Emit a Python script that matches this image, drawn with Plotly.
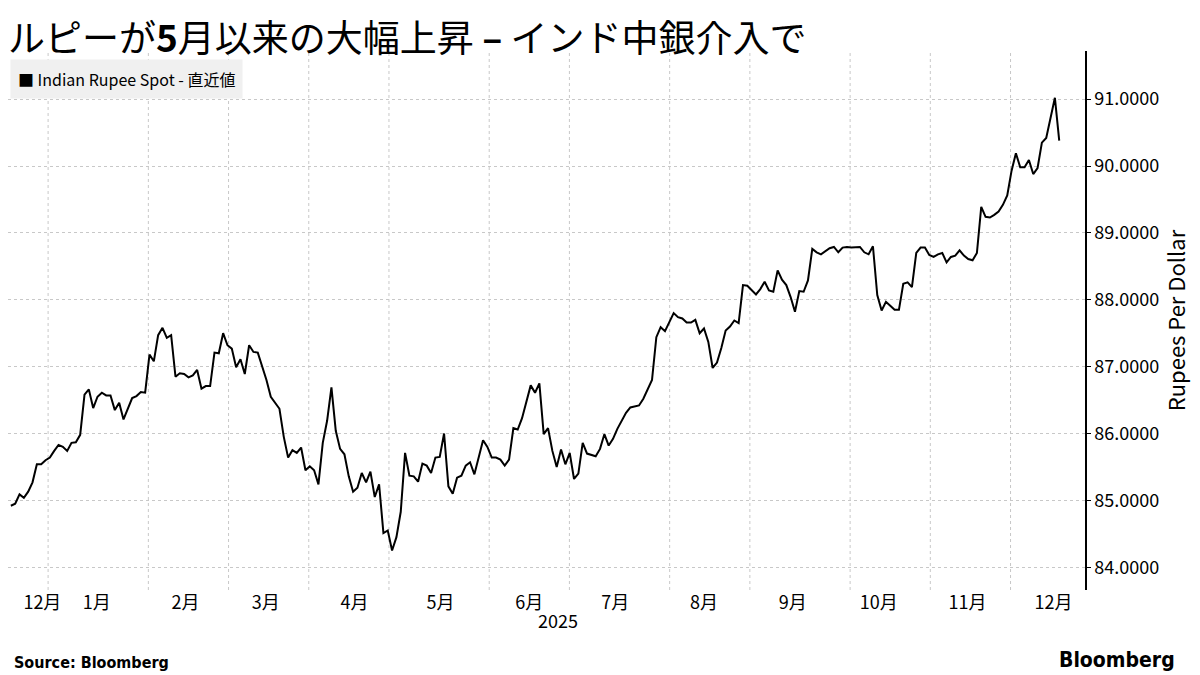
import pandas as pd
import plotly.graph_objects as go

# INR per USD (trading days, oldest first)
rupee = [
    84.92, 84.95, 85.09, 85.04, 85.13, 85.27, 85.54, 85.54, 85.60, 85.64, 85.74, 85.83, 85.80, 85.74, 85.86,
    85.87, 85.98, 86.58, 86.66, 86.38, 86.55, 86.61, 86.57, 86.57, 86.35, 86.46, 86.21, 86.37, 86.53, 86.56,
    86.62, 86.61, 87.18, 87.08, 87.47, 87.58, 87.43, 87.47, 86.85, 86.90, 86.89, 86.84, 86.87, 86.95, 86.67,
    86.71, 86.71, 87.21, 87.20, 87.50, 87.32, 87.27, 86.99, 87.11, 86.89, 87.32, 87.22, 87.21, 87.02, 86.80,
    86.55, 86.45, 86.37, 85.95, 85.64, 85.75, 85.71, 85.79, 85.45,
    85.51, 85.45, 85.24, 85.86, 86.19, 86.69, 86.04, 85.77, 85.69, 85.36, 85.13, 85.19, 85.41, 85.27, 85.43,
    85.05, 85.24, 84.51, 84.55, 84.25, 84.45, 84.83, 85.71, 85.37, 85.36, 85.28, 85.55, 85.52, 85.41, 85.64,
    85.65, 86.00, 85.21, 85.10, 85.34, 85.37, 85.52, 85.57, 85.39, 85.65, 85.90, 85.80, 85.64, 85.64, 85.61,
    85.52, 85.61, 86.08, 86.06, 86.23, 86.48, 86.72, 86.61, 86.75, 85.99, 86.08, 85.74, 85.50, 85.76, 85.54,
    85.71, 85.32, 85.40, 85.86, 85.70, 85.68, 85.66, 85.77, 85.99, 85.82, 85.92, 86.07, 86.18, 86.31, 86.39,
    86.41,
    86.42, 86.52, 86.67, 86.80, 87.44, 87.59, 87.53, 87.67, 87.80, 87.74, 87.72, 87.66, 87.66, 87.70, 87.50,
    87.57, 87.37, 86.98, 87.06, 87.28, 87.54, 87.60, 87.69, 87.65, 88.22, 88.21, 88.15, 88.08, 88.16, 88.27,
    88.14, 88.12, 88.44, 88.30, 88.22, 88.04, 87.82, 88.13, 88.12, 88.29, 88.76, 88.71, 88.68, 88.73, 88.77,
    88.79, 88.71, 88.78, 88.79, 88.78, 88.79, 88.79, 88.71, 88.68, 88.80, 88.07, 87.84, 87.97, 87.91, 87.85,
    87.85, 88.24, 88.26,
    88.19, 88.70, 88.78, 88.78, 88.67, 88.64, 88.68, 88.70, 88.56, 88.64, 88.66, 88.74, 88.66, 88.61, 88.59,
    88.70, 89.39, 89.24, 89.23, 89.27, 89.32, 89.42, 89.56, 89.93, 90.19, 89.98, 89.98, 90.09, 89.88, 89.97,
    90.35, 90.42, 90.73, 91.02, 90.38,
]
# readings were taken at even steps across the period
dates = pd.date_range(start="2024-12-16", end="2025-12-17", periods=len(rupee))

month_ticks = ["2024-12-27", "2025-01-15", "2025-02-15", "2025-03-15", "2025-04-15", "2025-05-15",
               "2025-06-15", "2025-07-15", "2025-08-15", "2025-09-15", "2025-10-15", "2025-11-15",
               "2025-12-15"]
month_labels = ["12月", "1月", "2月", "3月", "4月", "5月", "6月", "7月", "8月", "9月", "10月", "11月", "12月"]
grid_dates = ["2024-12-29", "2025-02-02", "2025-03-02", "2025-03-30", "2025-04-27", "2025-06-01",
              "2025-06-29", "2025-08-03", "2025-08-31", "2025-10-05", "2025-11-02", "2025-11-30"]
y_ticks = [84, 85, 86, 87, 88, 89, 90, 91]

FONT = "Noto Sans CJK JP, Noto Sans, sans-serif"
BRAND = "DejaVu Sans Condensed, DejaVu Sans"

fig = go.Figure()
fig.add_trace(go.Scatter(x=dates, y=rupee, mode="lines",
                         line=dict(color="black", width=2), hoverinfo="x+y"))

for g in grid_dates:
    fig.add_shape(type="line", xref="x", yref="paper", x0=g, x1=g, y0=0, y1=1,
                  line=dict(color="#c8c8c8", width=1, dash="dot"), layer="below")

fig.update_layout(
    width=1200, height=675,
    margin=dict(l=0, r=123, t=43, b=93),
    paper_bgcolor="white", plot_bgcolor="white",
    showlegend=False,
    font=dict(family=FONT, color="black"),
    xaxis=dict(
        range=["2024-12-15", "2025-12-26"],
        tickvals=month_ticks, ticktext=month_labels,
        showgrid=False, ticks="", showline=False, zeroline=False,
        tickfont=dict(size=18),
    ),
    yaxis=dict(
        side="right", range=[83.66, 91.72],
        tickvals=y_ticks, tickformat=".4f",
        showgrid=True, gridcolor="#c8c8c8", griddash="dot",
        showline=True, linecolor="black", linewidth=1.5,
        ticks="outside", ticklen=4, tickcolor="black",
        tickfont=dict(size=18), zeroline=False,
        title=dict(text="Rupees Per Dollar", font=dict(size=22), standoff=8),
    ),
)

fig.add_annotation(text="ルピーが<b>5</b>月以来の大幅上昇 <b>–</b> インド中銀介入で",
                   xref="paper", yref="paper", x=0, y=1, xshift=-2, yshift=15,
                   xanchor="left", yanchor="middle", showarrow=False,
                   font=dict(size=37, family=FONT))
fig.add_annotation(text="■ Indian Rupee Spot - 直近値",
                   xref="paper", yref="paper", x=0, y=1, xshift=2, yshift=-8,
                   xanchor="left", yanchor="top", showarrow=False,
                   bgcolor="#f0f0f0", borderpad=7,
                   font=dict(size=16, family=FONT))
fig.add_annotation(text="2025", xref="x", yref="paper", x="2025-06-25", y=0, yshift=-45,
                   showarrow=False, font=dict(size=18))
fig.add_annotation(text="<b>Source: Bloomberg</b>", xref="paper", yref="paper",
                   x=0, y=0, xshift=4, yshift=-72, xanchor="left", yanchor="middle",
                   showarrow=False, font=dict(size=16, family=BRAND))
fig.add_annotation(text="<b>Bloomberg</b>", xref="paper", yref="paper",
                   x=1, y=0, xshift=92, yshift=-70, xanchor="right", yanchor="middle",
                   showarrow=False, font=dict(size=21, family=BRAND))

fig.write_html("out.html")
